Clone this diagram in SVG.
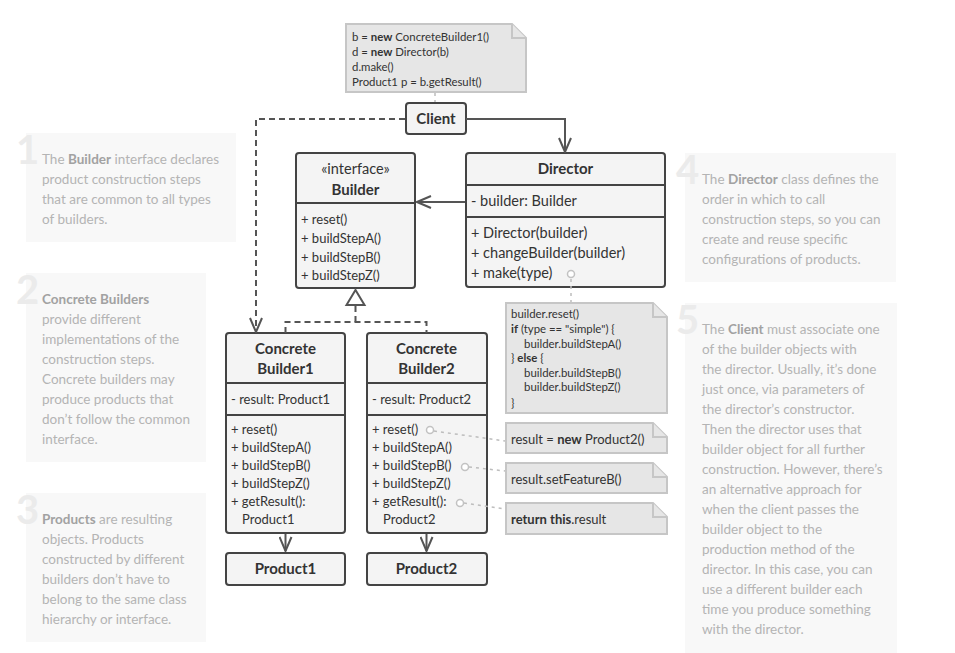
<svg xmlns="http://www.w3.org/2000/svg" width="955" height="653" viewBox="0 0 955 653">
<defs>
<style>
.box{fill:#f4f4f4;stroke:#444;stroke-width:2}
.div{stroke:#444;stroke-width:2}
.t{font-family:Lato,"Liberation Sans",sans-serif;fill:#333}
.h{font-weight:bold;font-size:15px;text-anchor:middle}
.m{font-size:13px}
.md{font-size:14.5px}
.note{fill:#e6e6e6;stroke:#c6c6c6;stroke-width:2}
.nt{font-family:Lato,"Liberation Sans",sans-serif;fill:#333;font-size:11.4px}
.ns{font-family:Lato,"Liberation Sans",sans-serif;fill:#333;font-size:13px}
.con{fill:none;stroke:#555;stroke-width:2}
.dash{stroke-dasharray:6 4}
.dot{fill:none;stroke:#bdbdbd;stroke-width:1.5;stroke-dasharray:3 4}
.anc{fill:#fff;stroke:#c2c2c2;stroke-width:1.5}
.panel{fill:#f8f8f8}
.num{font-family:Lato,"Liberation Sans",sans-serif;font-weight:bold;font-size:40px;fill:#ebebeb}
.pt{font-family:Lato,"Liberation Sans",sans-serif;font-size:13.5px;fill:#b4b4b4}
.pt tspan.b{font-weight:bold;fill:#a2a2a2}
</style>
<marker id="arr" markerUnits="userSpaceOnUse" viewBox="0 0 16 14" refX="15" refY="7" markerWidth="16" markerHeight="14" orient="auto">
<path d="M1,1 L15,7 L1,13" fill="none" stroke="#555" stroke-width="2"/>
</marker>
</defs>
<rect width="955" height="653" fill="#fff"/>

<g id="panels">
<g id="panel1">
<rect class="panel" x="26" y="133" width="210" height="109"/>
<text class="num" x="16" y="164">1</text>
<text class="pt" x="42" y="164">The <tspan class="b">Builder</tspan> interface declares</text>
<text class="pt" x="42" y="184">product construction steps</text>
<text class="pt" x="42" y="204">that are common to all types</text>
<text class="pt" x="42" y="224">of builders.</text>
</g>
<g id="panel2">
<rect class="panel" x="26" y="273" width="180" height="189"/>
<text class="num" x="16" y="304">2</text>
<text class="pt" x="42" y="304"><tspan class="b">Concrete Builders</tspan></text>
<text class="pt" x="42" y="324">provide different</text>
<text class="pt" x="42" y="344">implementations of the</text>
<text class="pt" x="42" y="364">construction steps.</text>
<text class="pt" x="42" y="384">Concrete builders may</text>
<text class="pt" x="42" y="404">produce products that</text>
<text class="pt" x="42" y="424">don’t follow the common</text>
<text class="pt" x="42" y="444">interface.</text>
</g>
<g id="panel3">
<rect class="panel" x="26" y="493" width="180" height="149"/>
<text class="num" x="16" y="524">3</text>
<text class="pt" x="42" y="524"><tspan class="b">Products</tspan> are resulting</text>
<text class="pt" x="42" y="544">objects. Products</text>
<text class="pt" x="42" y="564">constructed by different</text>
<text class="pt" x="42" y="584">builders don’t have to</text>
<text class="pt" x="42" y="604">belong to the same class</text>
<text class="pt" x="42" y="624">hierarchy or interface.</text>
</g>
<g id="panel4">
<rect class="panel" x="685" y="153" width="211" height="129"/>
<text class="num" x="676" y="184">4</text>
<text class="pt" x="702" y="184">The <tspan class="b">Director</tspan> class defines the</text>
<text class="pt" x="702" y="204">order in which to call</text>
<text class="pt" x="702" y="224">construction steps, so you can</text>
<text class="pt" x="702" y="244">create and reuse specific</text>
<text class="pt" x="702" y="264">configurations of products.</text>
</g>
<g id="panel5">
<rect class="panel" x="685" y="303" width="212" height="350"/>
<text class="num" x="676" y="334">5</text>
<text class="pt" x="702" y="334">The <tspan class="b">Client</tspan> must associate one</text>
<text class="pt" x="702" y="354">of the builder objects with</text>
<text class="pt" x="702" y="374">the director. Usually, it’s done</text>
<text class="pt" x="702" y="394">just once, via parameters of</text>
<text class="pt" x="702" y="414">the director’s constructor.</text>
<text class="pt" x="702" y="434">Then the director uses that</text>
<text class="pt" x="702" y="454">builder object for all further</text>
<text class="pt" x="702" y="474">construction. However, there’s</text>
<text class="pt" x="702" y="494">an alternative approach for</text>
<text class="pt" x="702" y="514">when the client passes the</text>
<text class="pt" x="702" y="534">builder object to the</text>
<text class="pt" x="702" y="554">production method of the</text>
<text class="pt" x="702" y="574">director. In this case, you can</text>
<text class="pt" x="702" y="594">use a different builder each</text>
<text class="pt" x="702" y="614">time you produce something</text>
<text class="pt" x="702" y="634">with the director.</text>
</g>
</g>

<g id="note-client">
<path class="note" d="M346,24 H512 L526,38 V92 H346 Z"/>
<path class="note" d="M512,24 V38 H526" fill="none"/>
<text class="nt" x="352" y="41">b = <tspan font-weight="bold">new</tspan> ConcreteBuilder1()</text>
<text class="nt" x="352" y="56">d = <tspan font-weight="bold">new</tspan> Director(b)</text>
<text class="nt" x="352" y="71">d.make()</text>
<text class="nt" x="352" y="86">Product1 p = b.getResult()</text>
</g>

<g id="client">
<rect class="box" x="406" y="103" width="60" height="31" rx="3"/>
<text class="t h" x="436" y="124">Client</text>
</g>

<g id="builder">
<rect class="box" x="296" y="153" width="119" height="135" rx="3"/>
<path class="div" d="M296,203 H415"/>
<text class="t" x="355.5" y="174" text-anchor="middle" font-size="14.5px">«interface»</text>
<text class="t h" x="355.5" y="195">Builder</text>
<text class="t m" x="301" y="224">+ reset()</text>
<text class="t m" x="301" y="243">+ buildStepA()</text>
<text class="t m" x="301" y="262">+ buildStepB()</text>
<text class="t m" x="301" y="280">+ buildStepZ()</text>
</g>

<g id="director">
<rect class="box" x="466" y="153" width="199" height="134" rx="3"/>
<path class="div" d="M466,185 H665 M466,217 H665"/>
<text class="t h" x="565.5" y="174">Director</text>
<text class="t md" x="471" y="206">- builder: Builder</text>
<text class="t md" x="471" y="238">+ Director(builder)</text>
<text class="t md" x="471" y="258">+ changeBuilder(builder)</text>
<text class="t md" x="471" y="278">+ make(type)</text>
</g>

<g id="note-make">
<path class="note" d="M506,303 H653 L667,317 V413 H506 Z"/>
<path class="note" d="M653,303 V317 H667" fill="none"/>
<text class="nt" x="511" y="318">builder.reset()</text>
<text class="nt" x="511" y="333"><tspan font-weight="bold">if</tspan> (type == "simple") {</text>
<text class="nt" x="524" y="348">builder.buildStepA()</text>
<text class="nt" x="511" y="362">} <tspan font-weight="bold">else</tspan> {</text>
<text class="nt" x="524" y="377">builder.buildStepB()</text>
<text class="nt" x="524" y="391">builder.buildStepZ()</text>
<text class="nt" x="511" y="407">}</text>
</g>

<g id="concrete-builder1">
<rect class="box" x="226" y="333" width="119" height="200" rx="3"/>
<path class="div" d="M226,383 H345 M226,415 H345"/>
<text class="t h" x="285.5" y="354">Concrete</text>
<text class="t h" x="285.5" y="374">Builder1</text>
<text class="t m" x="231" y="404">- result: Product1</text>
<text class="t m" x="231" y="434">+ reset()</text>
<text class="t m" x="231" y="452">+ buildStepA()</text>
<text class="t m" x="231" y="470">+ buildStepB()</text>
<text class="t m" x="231" y="488">+ buildStepZ()</text>
<text class="t m" x="231" y="506">+ getResult():</text>
<text class="t m" x="242" y="524">Product1</text>
</g>

<g id="concrete-builder2">
<rect class="box" x="367" y="333" width="120" height="200" rx="3"/>
<path class="div" d="M367,383 H487 M367,415 H487"/>
<text class="t h" x="426.5" y="354">Concrete</text>
<text class="t h" x="426.5" y="374">Builder2</text>
<text class="t m" x="372" y="404">- result: Product2</text>
<text class="t m" x="372" y="434">+ reset()</text>
<text class="t m" x="372" y="452">+ buildStepA()</text>
<text class="t m" x="372" y="470">+ buildStepB()</text>
<text class="t m" x="372" y="488">+ buildStepZ()</text>
<text class="t m" x="372" y="506">+ getResult():</text>
<text class="t m" x="383" y="524">Product2</text>
</g>

<g id="note-reset">
<path class="note" d="M506,423 H653 L667,437 V453 H506 Z"/>
<path class="note" d="M653,423 V437 H667" fill="none"/>
<text class="ns" x="511" y="444">result = <tspan font-weight="bold">new</tspan> Product2()</text>
</g>
<g id="note-stepb">
<path class="note" d="M506,463 H653 L667,477 V493 H506 Z"/>
<path class="note" d="M653,463 V477 H667" fill="none"/>
<text class="ns" x="511" y="484">result.setFeatureB()</text>
</g>
<g id="note-result">
<path class="note" d="M506,503 H653 L667,517 V534 H506 Z"/>
<path class="note" d="M653,503 V517 H667" fill="none"/>
<text class="ns" x="511" y="524"><tspan font-weight="bold">return this</tspan>.result</text>
</g>

<g id="product1">
<rect class="box" x="226" y="553" width="119" height="32" rx="3"/>
<text class="t h" x="285.5" y="574">Product1</text>
</g>
<g id="product2">
<rect class="box" x="367" y="553" width="120" height="32" rx="3"/>
<text class="t h" x="426.5" y="574">Product2</text>
</g>

<g id="connectors">
<path class="dot" d="M435,93 V102"/>
<path class="dot" d="M571,279 V302"/>
<path class="dot" d="M434,431 L505,441"/>
<path class="dot" d="M469,467 L505,471"/>
<path class="dot" d="M464,503 L505,509"/>
<circle class="anc" cx="571" cy="274" r="3.5"/>
<circle class="anc" cx="430" cy="430" r="3.5"/>
<circle class="anc" cx="465" cy="467" r="3.5"/>
<circle class="anc" cx="460" cy="503" r="3.5"/>
<path class="con" d="M466,119 H565 V152" marker-end="url(#arr)"/>
<path class="con dash" d="M405,119 H256 V332" marker-end="url(#arr)"/>
<path class="con" d="M465,202 H417" marker-end="url(#arr)"/>
<path class="con dash" d="M285.5,333 V322 H426.5 V333"/>
<path class="con dash" d="M355.5,322 V305"/>
<path class="con" d="M346.5,305 L355.5,290 L364.5,305 Z" fill="#fff"/>
<path class="con" d="M285.5,534 V551" marker-end="url(#arr)"/>
<path class="con" d="M426.5,534 V551" marker-end="url(#arr)"/>
</g>
</svg>
